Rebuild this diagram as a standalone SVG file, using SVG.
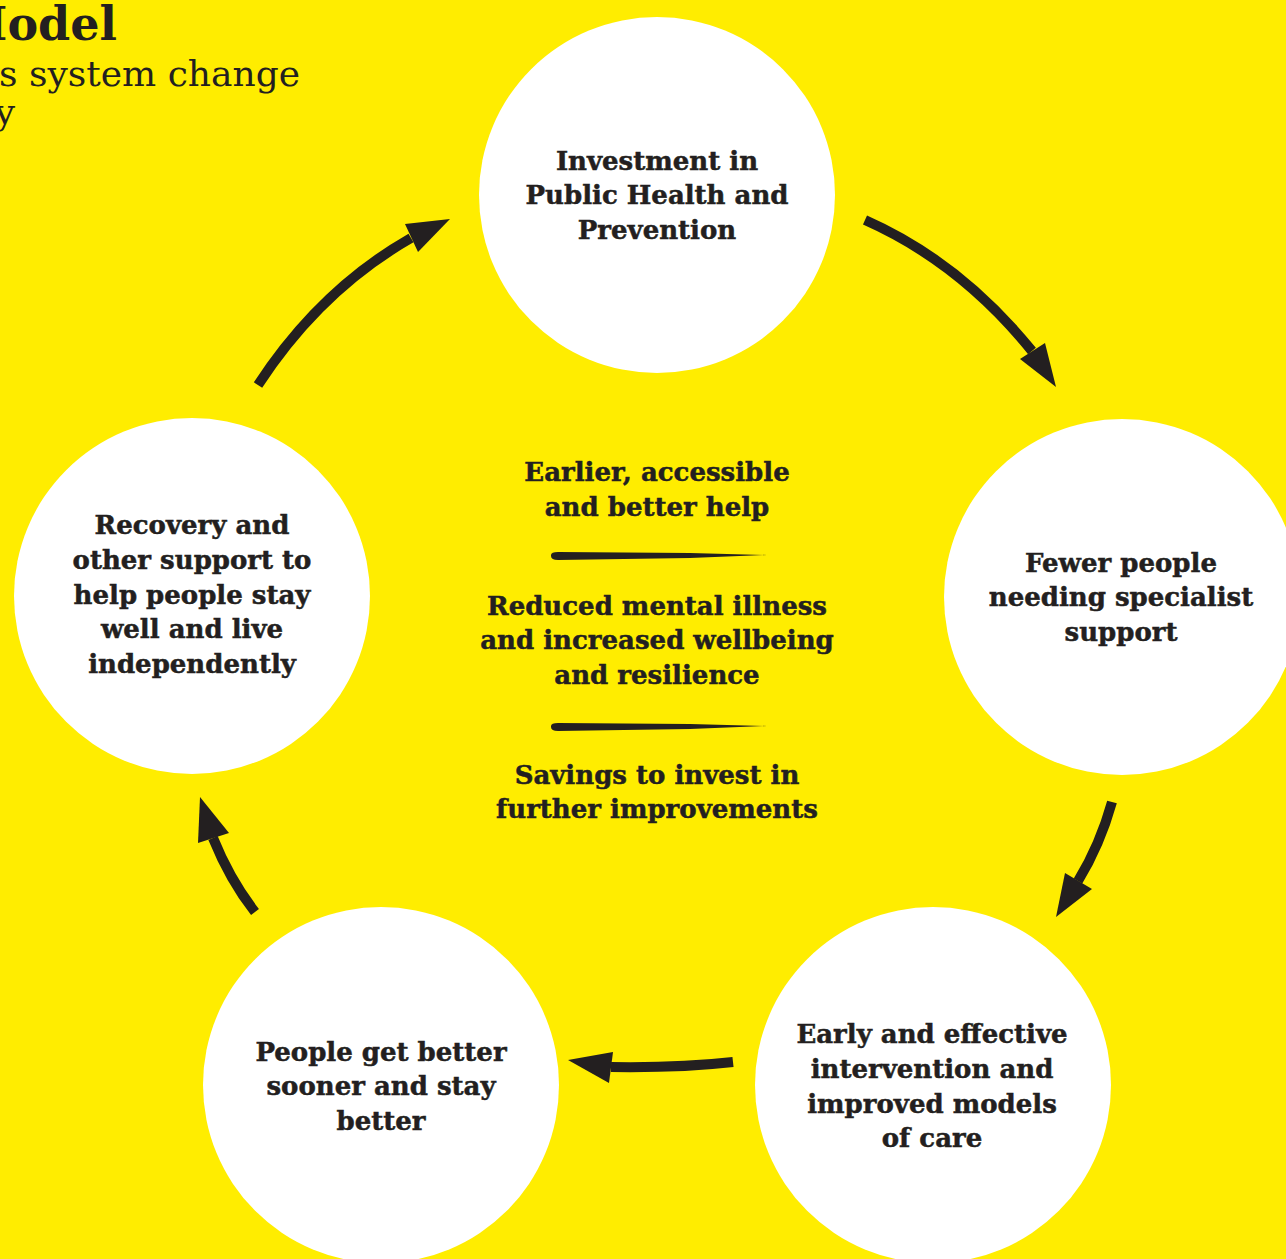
<svg xmlns="http://www.w3.org/2000/svg" width="1286" height="1259" viewBox="0 0 1286 1259">
<style>
.bg{fill:#FFED00}
.node{fill:#FFFFFF}
.t{font-family:"DejaVu Serif","Liberation Serif",serif;font-weight:bold;font-size:26px;fill:#231F20;stroke:#231F20;stroke-width:0.5;text-anchor:middle}
.shaft{fill:none;stroke:#231F20;stroke-width:10}
.head{fill:#231F20}
.div{fill:#231F20}
.title{font-family:"DejaVu Serif","Liberation Serif",serif;fill:#231F20;text-anchor:end}
</style>
<rect class="bg" x="0" y="0" width="1286" height="1259"/>
<g id="title">
<text class="title" x="117" y="40" font-size="46" font-weight="bold">Model</text>
<text class="title" x="300" y="86" font-size="36">s system change</text>
<text class="title" x="15" y="124" font-size="36">y</text>
</g>
<g id="connectors">
<path class="shaft" d="M865,220 Q960,262 1032,351"/>
<polygon class="head" points="1020,359 1045,343 1056,387"/>
<path class="shaft" d="M1112,802 Q1100,845 1078,881"/>
<polygon class="head" points="1065,873 1092,889 1056,917"/>
<path class="shaft" d="M733,1062 Q680,1068 611,1067"/>
<polygon class="head" points="613,1052 609,1083 568,1060"/>
<path class="shaft" d="M255,912 Q230,880 213,838"/>
<polygon class="head" points="198,843 229,833 200,797"/>
<path class="shaft" d="M258,385 Q320,290 411,238"/>
<polygon class="head" points="418,252 405,224 450,219"/>
</g>
<g id="n1">
<circle class="node" cx="657" cy="195" r="178"/>
<text class="t" x="657" y="170">Investment in</text>
<text class="t" x="657" y="204">Public Health and</text>
<text class="t" x="657" y="239">Prevention</text>
</g>
<g id="n2">
<circle class="node" cx="1122" cy="597" r="178"/>
<text class="t" x="1121" y="572">Fewer people</text>
<text class="t" x="1121" y="606">needing specialist</text>
<text class="t" x="1121" y="641">support</text>
</g>
<g id="n3">
<circle class="node" cx="933" cy="1085" r="178"/>
<text class="t" x="932" y="1043">Early and effective</text>
<text class="t" x="932" y="1078">intervention and</text>
<text class="t" x="932" y="1113">improved models</text>
<text class="t" x="932" y="1147">of care</text>
</g>
<g id="n4">
<circle class="node" cx="381" cy="1085" r="178"/>
<text class="t" x="381" y="1061">People get better</text>
<text class="t" x="381" y="1095">sooner and stay</text>
<text class="t" x="381" y="1130">better</text>
</g>
<g id="n5">
<circle class="node" cx="192" cy="596" r="178"/>
<text class="t" x="192" y="534">Recovery and</text>
<text class="t" x="192" y="569">other support to</text>
<text class="t" x="192" y="604">help people stay</text>
<text class="t" x="192" y="638">well and live</text>
<text class="t" x="192" y="673">independently</text>
</g>
<g id="centre">
<text class="t" x="657" y="481">Earlier, accessible</text>
<text class="t" x="657" y="516">and better help</text>
<path class="div" d="M551,555 Q551,552 558,552 L690,553 L767,555 L690,558 L558,560 Q551,560 551,556 Z"/>
<text class="t" x="657" y="615">Reduced mental illness</text>
<text class="t" x="657" y="649">and increased wellbeing</text>
<text class="t" x="657" y="684">and resilience</text>
<path class="div" d="M551,726 Q551,723 558,723 L690,724 L767,726 L690,729 L558,731 Q551,731 551,727 Z"/>
<text class="t" x="657" y="784">Savings to invest in</text>
<text class="t" x="657" y="818">further improvements</text>
</g>
</svg>
